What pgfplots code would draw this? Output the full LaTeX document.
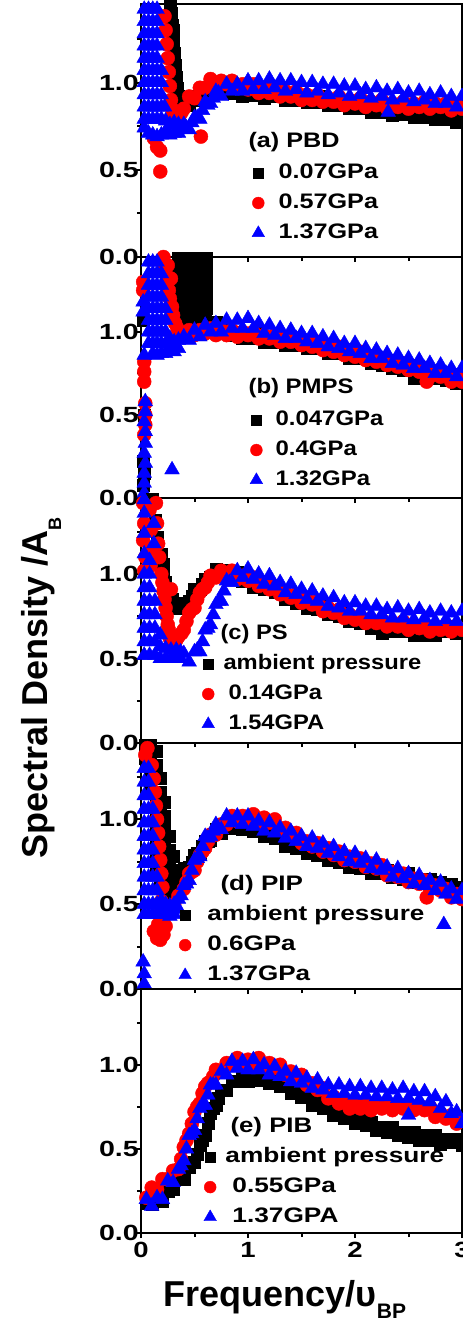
\documentclass[border=0pt]{standalone}
\usepackage{fontspec}
\setmainfont{Liberation Sans}
\usepackage{graphicx}
\usepackage{pgfplots}
\usepackage{pgfplotstable}
\pgfplotsset{compat=1.18}

\newcommand\tickfont{\bfseries\fontsize{22}{24}\selectfont}
\newcommand\legfont{\bfseries\fontsize{21}{24}\selectfont}
\newcommand\labfont{\bfseries\fontsize{36}{40}\selectfont}
\newcommand\hs[2]{\scalebox{#1}[1]{#2}}

% columns: x, k = black squares, r = red circles, b = blue triangles
\pgfplotstableread{
x k r b
0.40 0.87 0.85 0.76
0.45 0.87 0.92 0.73
0.50 0.92 0.91 0.80
0.55 0.90 0.97 0.79
0.60 0.95 0.97 0.89
0.65 0.94 1.02 0.88
0.70 0.98 0.98 0.95
0.75 0.94 1.01 0.92
0.80 0.97 0.99 0.99
0.85 0.94 1.01 0.95
0.90 0.97 0.97 0.99
0.95 0.92 0.99 0.95
1.00 0.95 0.96 1.01
1.05 0.93 0.99 0.96
1.10 0.95 0.94 1.01
1.15 0.91 0.97 0.96
1.20 0.94 0.94 1.02
1.25 0.92 0.97 0.97
1.30 0.94 0.92 1.01
1.35 0.90 0.95 0.95
1.40 0.93 0.92 1.01
1.45 0.90 0.95 0.96
1.50 0.93 0.90 1.00
1.55 0.89 0.93 0.94
1.60 0.92 0.90 1.00
1.65 0.89 0.93 0.95
1.70 0.92 0.89 0.99
1.75 0.87 0.91 0.93
1.80 0.90 0.89 0.99
1.85 0.87 0.92 0.94
1.90 0.90 0.87 0.98
1.95 0.85 0.90 0.92
2.00 0.88 0.88 0.98
2.05 0.85 0.91 0.93
2.10 0.88 0.86 0.96
2.15 0.83 0.89 0.91
2.20 0.86 0.87 0.97
2.25 0.83 0.90 0.92
2.30 0.86 0.85 0.95
2.35 0.81 0.88 0.90
2.40 0.84 0.86 0.96
2.45 0.82 0.89 0.91
2.50 0.84 0.85 0.94
2.55 0.80 0.88 0.89
2.60 0.83 0.86 0.95
2.65 0.80 0.89 0.90
2.70 0.83 0.85 0.93
2.75 0.79 0.88 0.88
2.80 0.81 0.86 0.94
2.85 0.79 0.88 0.88
2.90 0.82 0.84 0.92
2.95 0.77 0.87 0.86
3.00 0.80 0.85 0.92
}\tA

\pgfplotstableread{
x k r b
0.40 1.09 0.97 0.97
0.45 1.07 1.01 0.95
0.50 1.10 0.98 1.01
0.55 1.06 1.01 0.97
0.60 1.09 0.99 1.04
0.65 1.06 1.02 1.00
0.70 1.06 0.98 1.05
0.75 1.00 1.01 1.00
0.80 1.01 0.98 1.07
0.85 0.98 1.01 1.02
0.90 1.00 0.97 1.07
0.95 0.96 1.00 1.02
1.00 0.99 0.98 1.08
1.05 0.96 1.00 1.02
1.10 0.99 0.96 1.05
1.15 0.94 0.98 0.99
1.20 0.97 0.96 1.04
1.25 0.94 0.98 0.98
1.30 0.97 0.94 1.02
1.35 0.92 0.96 0.96
1.40 0.95 0.94 1.01
1.45 0.92 0.96 0.96
1.50 0.95 0.92 0.99
1.55 0.90 0.94 0.94
1.60 0.92 0.91 0.99
1.65 0.90 0.94 0.93
1.70 0.92 0.89 0.97
1.75 0.87 0.91 0.91
1.80 0.89 0.88 0.96
1.85 0.87 0.91 0.90
1.90 0.89 0.86 0.93
1.95 0.84 0.88 0.88
2.00 0.86 0.85 0.93
2.05 0.84 0.88 0.87
2.10 0.86 0.83 0.90
2.15 0.81 0.85 0.84
2.20 0.83 0.82 0.89
2.25 0.80 0.84 0.84
2.30 0.83 0.80 0.87
2.35 0.78 0.82 0.81
2.40 0.80 0.79 0.86
2.45 0.77 0.81 0.80
2.50 0.80 0.77 0.84
2.55 0.75 0.79 0.78
2.60 0.77 0.76 0.83
2.65 0.74 0.78 0.78
2.70 0.76 0.73 0.81
2.75 0.72 0.76 0.75
2.80 0.74 0.73 0.80
2.85 0.71 0.75 0.75
2.90 0.73 0.70 0.78
2.95 0.69 0.73 0.73
3.00 0.71 0.70 0.78
}\tB

\pgfplotstableread{
x k r b
0.40 0.82 0.67 0.53
0.45 0.84 0.77 0.48
0.50 0.91 0.80 0.54
0.55 0.91 0.89 0.54
0.60 0.97 0.92 0.67
0.65 0.98 0.99 0.70
0.70 1.03 0.98 0.82
0.75 1.00 1.02 0.84
0.80 1.02 1.00 0.96
0.85 0.99 1.02 0.95
0.90 1.01 0.97 1.02
0.95 0.96 0.99 0.98
1.00 0.97 0.96 1.03
1.05 0.92 0.98 0.97
1.10 0.96 0.93 1.00
1.15 0.91 0.95 0.94
1.20 0.92 0.91 0.99
1.25 0.89 0.93 0.93
1.30 0.90 0.88 0.95
1.35 0.85 0.89 0.89
1.40 0.87 0.86 0.94
1.45 0.83 0.88 0.88
1.50 0.85 0.83 0.91
1.55 0.80 0.85 0.85
1.60 0.82 0.82 0.90
1.65 0.79 0.84 0.84
1.70 0.81 0.78 0.87
1.75 0.76 0.80 0.81
1.80 0.78 0.77 0.86
1.85 0.75 0.79 0.80
1.90 0.77 0.74 0.83
1.95 0.72 0.76 0.78
2.00 0.74 0.73 0.83
2.05 0.71 0.75 0.78
2.10 0.73 0.71 0.81
2.15 0.68 0.73 0.76
2.20 0.70 0.71 0.81
2.25 0.65 0.73 0.76
2.30 0.70 0.69 0.79
2.35 0.66 0.71 0.74
2.40 0.68 0.69 0.80
2.45 0.66 0.72 0.74
2.50 0.69 0.67 0.78
2.55 0.64 0.70 0.73
2.60 0.67 0.68 0.79
2.65 0.64 0.70 0.74
2.70 0.64 0.66 0.77
2.75 0.64 0.69 0.72
2.80 0.67 0.67 0.78
2.85 0.66 0.70 0.73
2.90 0.69 0.66 0.77
2.95 0.65 0.69 0.72
3.00 0.68 0.67 0.78
}\tC

\pgfplotstableread{
x k r b
0.40 0.71 0.59 0.61
0.45 0.72 0.68 0.64
0.50 0.79 0.70 0.76
0.55 0.80 0.79 0.78
0.60 0.87 0.83 0.90
0.65 0.88 0.91 0.90
0.70 0.94 0.91 0.97
0.75 0.92 0.97 0.94
0.80 0.96 0.97 1.02
0.85 0.95 1.02 0.98
0.90 0.98 0.99 1.02
0.95 0.94 1.02 0.97
1.00 0.96 1.00 1.02
1.05 0.93 1.03 0.96
1.10 0.95 0.98 0.99
1.15 0.90 1.01 0.93
1.20 0.92 0.98 0.98
1.25 0.89 1.00 0.92
1.30 0.90 0.94 0.95
1.35 0.84 0.95 0.89
1.40 0.86 0.91 0.93
1.45 0.83 0.92 0.87
1.50 0.85 0.86 0.90
1.55 0.80 0.87 0.84
1.60 0.82 0.84 0.89
1.65 0.79 0.86 0.83
1.70 0.81 0.81 0.86
1.75 0.76 0.83 0.80
1.80 0.78 0.79 0.84
1.85 0.75 0.81 0.78
1.90 0.77 0.76 0.81
1.95 0.72 0.78 0.75
2.00 0.74 0.75 0.80
2.05 0.71 0.77 0.74
2.10 0.73 0.72 0.77
2.15 0.68 0.74 0.71
2.20 0.71 0.71 0.76
2.25 0.68 0.73 0.70
2.30 0.70 0.67 0.72
2.35 0.66 0.69 0.66
2.40 0.68 0.66 0.71
2.45 0.65 0.68 0.65
2.50 0.68 0.63 0.68
2.55 0.63 0.65 0.62
2.60 0.65 0.62 0.67
2.65 0.63 0.64 0.61
2.70 0.65 0.59 0.64
2.75 0.60 0.61 0.58
2.80 0.63 0.58 0.63
2.85 0.60 0.59 0.56
2.90 0.62 0.54 0.59
2.95 0.58 0.56 0.53
3.00 0.60 0.53 0.58
}\tD

\pgfplotstableread{
x k r b
0.05 0.18 0.21 0.20
0.10 0.17 0.27 0.16
0.15 0.21 0.26 0.21
0.20 0.19 0.32 0.20
0.25 0.25 0.32 0.31
0.30 0.26 0.37 0.30
0.35 0.32 0.38 0.38
0.40 0.32 0.51 0.43
0.45 0.39 0.59 0.58
0.50 0.42 0.72 0.61
0.55 0.52 0.77 0.74
0.60 0.58 0.87 0.76
0.65 0.71 0.90 0.88
0.70 0.76 0.97 0.88
0.75 0.85 0.96 0.96
0.80 0.85 1.01 0.94
0.85 0.90 1.00 1.02
0.90 0.90 1.04 0.98
0.95 0.94 1.00 1.02
1.00 0.90 1.03 0.97
1.05 0.93 1.01 1.03
1.10 0.91 1.04 0.97
1.15 0.94 0.99 1.00
1.20 0.89 1.01 0.94
1.25 0.91 0.98 0.99
1.30 0.87 1.00 0.93
1.35 0.89 0.94 0.96
1.40 0.83 0.96 0.90
1.45 0.85 0.92 0.95
1.50 0.81 0.94 0.89
1.55 0.82 0.88 0.92
1.60 0.76 0.89 0.86
1.65 0.78 0.85 0.91
1.70 0.74 0.86 0.85
1.75 0.76 0.80 0.88
1.80 0.70 0.81 0.83
1.85 0.72 0.77 0.88
1.90 0.68 0.79 0.83
1.95 0.70 0.74 0.87
2.00 0.65 0.77 0.82
2.05 0.67 0.74 0.87
2.10 0.64 0.77 0.82
2.15 0.66 0.73 0.86
2.20 0.61 0.76 0.81
2.25 0.63 0.74 0.86
2.30 0.60 0.77 0.81
2.35 0.63 0.73 0.85
2.40 0.58 0.76 0.80
2.45 0.60 0.74 0.86
2.50 0.57 0.77 0.80
2.55 0.60 0.73 0.84
2.60 0.55 0.76 0.79
2.65 0.58 0.73 0.84
2.70 0.55 0.75 0.78
2.75 0.58 0.69 0.81
2.80 0.53 0.71 0.74
2.85 0.56 0.68 0.78
2.90 0.54 0.70 0.71
2.95 0.56 0.65 0.72
3.00 0.52 0.67 0.65
}\tE

\pgfplotsset{
  /pgf/number format/assume math mode=true,
  panel/.style={
    scale only axis, width=321pt, anchor=south west,
    xmin=0, xmax=3, ymin=0, ymax=1.45,
    axis on top,
    axis line style={line width=2.2pt},
    xtick={0,1,2,3}, minor xtick={0.5,1.5,2.5},
    ytick={0,0.5,1}, minor ytick={0.25,0.75,1.25},
    tick align=outside, xtick pos=bottom, ytick pos=left,
    major tick length=5pt, minor tick length=4pt,
    every tick/.style={line width=2pt, black},
    tick label style={font=\tickfont},
    yticklabel={\hs{1.3}{\pgfmathprintnumber[fixed,fixed zerofill,precision=1]{\tick}}},
    yticklabel style={anchor=east, inner sep=0pt, xshift=3pt},
    xticklabel={\hs{1.25}{\pgfmathprintnumber{\tick}}},
    xticklabel style={inner sep=2pt, yshift=-2pt},
    legend cell align=left,
    legend image code/.code={\path[draw=none,fill=none] (-6pt,-10pt) rectangle (6pt,10pt);
      \draw[##1, mark size=0.85*\pgfplotmarksize] plot coordinates {(0pt,0pt)};},
    legend style={anchor=north west, draw=none, fill=none, inner sep=0pt, outer sep=0pt,
      row sep=10pt, column sep=14pt, font=\legfont,
      nodes={inner sep=0pt, text height=15pt, text depth=5pt}},
  },
  ks/.style={only marks, mark=square*, mark size=6pt, black},
  rc/.style={only marks, mark=*, mark size=7pt, red},
  bt/.style={only marks, mark=triangle*, mark size=8.5pt, blue},
}

\begin{document}
\begin{tikzpicture}
\useasboundingbox (0pt,0pt) rectangle (463pt,-1323pt);

% ---------------- (a) PBD
\begin{axis}[panel, at={(141pt,-257pt)}, height=253pt, xticklabels={,,,},
  legend style={at={(0.346,0.3715)}}]
\addplot[ks] table[x=x,y=k]{\tA};
\addlegendentry{\hs{1.2}{0.07GPa}}
\addplot[ks, forget plot] coordinates {(0.24,1.46) (0.26,1.46) (0.27,1.44) (0.28,1.40) (0.29,1.33)
  (0.30,1.30) (0.30,1.24) (0.31,1.17) (0.32,1.10) (0.33,1.03) (0.34,0.97) (0.35,0.92) (0.36,0.88) (0.38,0.86)};
\addplot[rc] table[x=x,y=r]{\tA};
\addlegendentry{\hs{1.2}{0.57GPa}}
\addplot[rc, forget plot] coordinates {(0.21,1.46) (0.22,1.38) (0.23,1.30) (0.24,1.22) (0.25,1.14) (0.26,1.06)
  (0.27,0.98) (0.28,0.90) (0.29,0.85) (0.30,0.82) (0.32,0.80) (0.34,0.80) (0.36,0.81) (0.38,0.83)
  (0.12,0.68) (0.15,0.63) (0.18,0.61) (0.18,0.49) (0.56,0.69)};
\addplot[bt] table[x=x,y=b]{\tA};
\addlegendentry{\hs{1.2}{1.37GPa}}
\addplot[bt, forget plot] coordinates {
  (0.03,1.42) (0.03,1.35) (0.03,1.28) (0.03,1.21) (0.03,1.14) (0.03,1.07) (0.03,1.00) (0.03,0.93) (0.03,0.86) (0.03,0.79)
  (0.07,1.42) (0.07,1.35) (0.07,1.28) (0.07,1.21) (0.07,1.14) (0.07,1.07) (0.07,1.00) (0.07,0.93) (0.07,0.86) (0.07,0.79)
  (0.11,1.42) (0.11,1.35) (0.11,1.28) (0.11,1.21) (0.11,1.14) (0.11,1.07) (0.11,1.00) (0.11,0.93) (0.11,0.86) (0.11,0.79)
  (0.15,1.42) (0.15,1.35) (0.15,1.28) (0.15,1.21) (0.15,1.14) (0.15,1.07) (0.15,1.00) (0.15,0.93) (0.15,0.86) (0.15,0.79)
  (0.19,1.07) (0.19,1.00) (0.19,0.93) (0.19,0.86) (0.19,0.79) (0.22,0.86)
  (0.03,0.74) (0.07,0.71) (0.11,0.70) (0.15,0.69) (0.19,0.70) (0.23,0.72) (0.23,0.78)
  (0.27,0.70) (0.27,0.76) (0.31,0.71) (0.31,0.77) (0.35,0.71) (0.35,0.76)
  (0.425,0.74) (0.475,0.77) (0.525,0.80) (0.575,0.84) (0.625,0.87) (0.675,0.91) (0.725,0.94) (2.31,0.83)};
\end{axis}
\node[anchor=base west, font=\legfont] at (245pt,-147pt) {\hs{1.2}{(a) PBD}};

% ---------------- (b) PMPS
\begin{axis}[panel, at={(141pt,-498pt)}, height=241pt, xticklabels={,,,},
  legend style={at={(0.340,0.365)}, column sep=13pt}]
\addplot[ks] table[x=x,y=k]{\tB};
\addlegendentry{\hs{1.14}{0.047GPa}}
\addplot[ks, forget plot] coordinates {
  (0.35,1.44) (0.35,1.38) (0.35,1.32) (0.35,1.26) (0.35,1.20) (0.35,1.14)
  (0.40,1.44) (0.40,1.38) (0.40,1.32) (0.40,1.26) (0.40,1.20) (0.40,1.14)
  (0.45,1.44) (0.45,1.38) (0.45,1.32) (0.45,1.26) (0.45,1.20) (0.45,1.14)
  (0.50,1.44) (0.50,1.38) (0.50,1.32) (0.50,1.26) (0.50,1.20) (0.50,1.14)
  (0.55,1.44) (0.55,1.38) (0.55,1.32) (0.55,1.26) (0.55,1.20) (0.55,1.14)
  (0.61,1.44) (0.61,1.38) (0.61,1.32) (0.61,1.26) (0.61,1.20) (0.61,1.14)
  (0.02,1.07) (0.03,0.50) (0.02,0.22) (0.03,0.15) (0.02,0.08) (2.55,0.72)};
\addplot[rc] table[x=x,y=r]{\tB};
\addlegendentry{\hs{1.14}{0.4GPa}}
\addplot[rc, forget plot] coordinates {(0.21,1.45) (0.22,1.40) (0.23,1.35) (0.25,1.30) (0.26,1.25) (0.27,1.20)
  (0.29,1.15) (0.30,1.10) (0.32,1.05) (0.34,1.02) (0.36,1.00) (0.38,0.98) (0.25,1.40) (0.28,1.32)
  (0.02,1.30) (0.02,1.25) (0.03,0.82) (0.03,0.76) (0.03,0.70) (0.04,0.57) (0.04,0.50) (0.04,0.44) (0.03,0.38)
  (2.67,0.70)};
\addplot[bt] table[x=x,y=b]{\tB};
\addlegendentry{\hs{1.14}{1.32GPa}}
\addplot[bt, forget plot] coordinates {
  (0.07,1.42) (0.07,1.35) (0.07,1.28) (0.07,1.21) (0.07,1.14) (0.07,1.07) (0.07,1.00) (0.07,0.93)
  (0.11,1.42) (0.11,1.35) (0.11,1.28) (0.11,1.21) (0.11,1.14) (0.11,1.07) (0.11,1.00) (0.11,0.93)
  (0.15,1.42) (0.15,1.35) (0.15,1.28) (0.15,1.21) (0.15,1.14) (0.15,1.07) (0.15,1.00) (0.15,0.93)
  (0.19,1.35) (0.19,1.28) (0.19,1.21) (0.19,1.14) (0.19,1.07) (0.19,1.00) (0.19,0.93)
  (0.23,1.14) (0.23,1.07) (0.23,1.00) (0.23,0.93)
  (0.11,0.87) (0.15,0.86) (0.19,0.87) (0.23,0.87) (0.27,0.90) (0.27,0.96) (0.31,0.88) (0.31,0.94) (0.35,0.90) (0.35,0.95)
  (0.03,0.03) (0.03,0.09) (0.03,0.15) (0.04,0.21) (0.03,0.27) (0.04,0.33) (0.04,0.40) (0.03,0.46) (0.04,0.52) (0.04,0.58)
  (0.03,0.86) (0.02,1.12) (0.02,1.18) (0.29,0.17)};
\end{axis}
\node[anchor=base west, font=\legfont] at (245pt,-393pt) {\hs{1.14}{(b) PMPS}};

% ---------------- (c) PS
\begin{axis}[panel, at={(141pt,-743pt)}, height=245pt, xticklabels={,,,},
  legend style={at={(0.190,0.363)}, column sep=9pt}]
\addplot[ks] table[x=x,y=k]{\tC};
\addlegendentry{\hs{1.13}{ambient pressure}}
\addplot[ks, forget plot] coordinates {(0.10,1.44) (0.13,1.32) (0.15,1.22) (0.17,1.12) (0.19,1.06) (0.21,1.00)
  (0.23,0.95) (0.25,0.91) (0.27,0.88) (0.29,0.85) (0.31,0.83) (0.33,0.81) (0.35,0.80) (0.37,0.80) (0.19,1.12) (0.21,1.06)
  (0.425,0.83) (0.475,0.87) (0.525,0.91) (0.575,0.94)};
\addplot[rc] table[x=x,y=r]{\tC};
\addlegendentry{\hspace*{5pt}\hs{1.13}{0.14GPa}}
\addplot[rc, forget plot] coordinates {(0.02,1.42) (0.03,1.30) (0.02,1.20) (0.04,1.10) (0.03,1.02)
  (0.08,1.38) (0.09,1.26) (0.10,1.15) (0.09,1.05) (0.14,1.42) (0.15,1.30) (0.16,1.18)
  (0.17,1.10) (0.19,1.00) (0.21,0.90) (0.23,0.80) (0.25,0.70) (0.27,0.62) (0.29,0.58) (0.31,0.59)
  (0.33,0.61) (0.35,0.63) (0.38,0.65) (0.28,0.91) (0.20,0.95) (0.22,0.85) (0.24,0.75) (0.26,0.67)
  (0.425,0.72) (0.475,0.79) (0.525,0.85) (0.575,0.91) (0.625,0.95)};
\addplot[bt] table[x=x,y=b]{\tC};
\addlegendentry{\hspace*{5pt}\hs{1.13}{1.54GPA}}
\addplot[bt, forget plot] coordinates {
  (0.03,0.52) (0.03,0.60) (0.03,0.68) (0.03,0.76) (0.03,0.84) (0.03,0.92) (0.03,1.00) (0.03,1.12) (0.03,1.24) (0.03,1.36) (0.03,1.44)
  (0.08,0.52) (0.08,0.60) (0.08,0.68) (0.08,0.76) (0.08,0.84) (0.08,0.92) (0.08,1.00) (0.08,1.08)
  (0.12,1.30) (0.12,1.18) (0.13,0.52) (0.13,0.60) (0.13,0.68) (0.13,0.76) (0.13,0.84)
  (0.18,0.50) (0.18,0.57) (0.18,0.64) (0.23,0.50) (0.23,0.56) (0.28,0.50) (0.28,0.55)
  (0.33,0.50) (0.33,0.55) (0.37,0.50) (0.37,0.54)
  (0.525,0.55) (0.575,0.60) (0.625,0.68) (0.675,0.76) (0.725,0.84) (0.775,0.90) (0.825,0.95)};
\end{axis}
\node[anchor=base west, font=\legfont] at (217pt,-639pt) {\hs{1.13}{(c) PS}};

% ---------------- (d) PIP
\begin{axis}[panel, at={(141pt,-989pt)}, height=246pt, xticklabels={,,,},
  legend style={at={(0.118,0.341)}, column sep=16pt}]
\addplot[ks] table[x=x,y=k]{\tD};
\addlegendentry{\hs{1.24}{ambient pressure}}
\addplot[ks, forget plot] coordinates {
  (0.04,1.44) (0.04,1.36) (0.09,1.44) (0.09,1.36) (0.09,1.28) (0.09,1.20)
  (0.14,1.40) (0.14,1.32) (0.14,1.24) (0.14,1.16) (0.14,1.08) (0.14,1.00) (0.14,0.92) (0.14,0.84) (0.14,0.76) (0.14,0.68)
  (0.18,1.24) (0.18,1.16) (0.18,1.08) (0.18,1.00) (0.18,0.92) (0.18,0.84) (0.18,0.76) (0.18,0.68) (0.18,0.60)
  (0.22,1.10) (0.22,1.02) (0.22,0.94) (0.22,0.86) (0.22,0.78) (0.22,0.70) (0.22,0.62)
  (0.26,0.90) (0.26,0.82) (0.26,0.74) (0.26,0.66) (0.26,0.58)
  (0.30,0.78) (0.30,0.70) (0.30,0.62) (0.30,0.56) (0.34,0.70) (0.34,0.63) (0.34,0.56) (0.38,0.68) (0.38,0.62)
  (0.425,0.71) (0.475,0.75) (0.525,0.80) (0.575,0.84) (0.625,0.87)};
\addplot[rc] table[x=x,y=r]{\tD};
\addlegendentry{\hs{1.24}{0.6GPa}}
\addplot[rc, forget plot] coordinates {(0.06,1.42) (0.04,1.38) (0.10,1.32) (0.12,1.24) (0.13,1.16) (0.14,1.08)
  (0.15,1.00) (0.16,0.92) (0.17,0.84) (0.18,0.76) (0.19,0.68) (0.20,0.60) (0.19,0.52) (0.18,0.45) (0.16,0.38)
  (0.12,0.34) (0.15,0.30) (0.18,0.29) (0.21,0.32) (0.23,0.37) (0.24,0.44) (0.27,0.48) (0.31,0.50) (0.35,0.55)
  (0.425,0.63) (0.475,0.69) (0.525,0.75) (0.575,0.81) (0.625,0.87) (0.675,0.91) (2.67,0.54)};
\addplot[bt] table[x=x,y=b]{\tD};
\addlegendentry{\hs{1.24}{1.37GPa}}
\addplot[bt, forget plot] coordinates {
  (0.03,1.30) (0.03,1.22) (0.03,1.14) (0.03,1.06) (0.03,0.98) (0.03,0.90) (0.03,0.82) (0.03,0.74) (0.03,0.66) (0.03,0.58) (0.03,0.50) (0.03,0.44)
  (0.07,1.30) (0.07,1.22) (0.07,1.14) (0.07,1.06) (0.07,0.98) (0.07,0.90) (0.07,0.82) (0.07,0.74) (0.07,0.66) (0.07,0.58) (0.07,0.50) (0.07,0.44)
  (0.11,1.06) (0.11,0.98) (0.11,0.90) (0.11,0.82) (0.11,0.74) (0.11,0.66) (0.11,0.58) (0.11,0.50) (0.11,0.44)
  (0.15,0.66) (0.15,0.58) (0.15,0.50) (0.15,0.44) (0.19,0.52) (0.19,0.45)
  (0.23,0.50) (0.23,0.44) (0.27,0.49) (0.27,0.43) (0.31,0.50) (0.31,0.44) (0.35,0.53) (0.35,0.47)
  (0.375,0.55) (0.425,0.62) (0.475,0.70) (0.525,0.77) (0.575,0.84) (0.625,0.89) (0.675,0.93)
  (0.02,0.16) (0.03,0.09) (0.03,0.03) (2.83,0.38)};
\end{axis}
\node[anchor=base west, font=\legfont] at (217pt,-890pt) {\hs{1.24}{(d) PIP}};

% ---------------- (e) PIB
\begin{axis}[panel, at={(141pt,-1233pt)}, height=244pt,
  legend style={at={(0.196,0.352)}, column sep=9pt}]
\addplot[ks] table[x=x,y=k]{\tE};
\addlegendentry{\hs{1.25}{ambient pressure}}
\addplot[ks, forget plot] coordinates {(0.525,0.47) (0.575,0.55) (0.625,0.65) (0.675,0.74) (0.725,0.80) (0.775,0.85)};
\addplot[rc] table[x=x,y=r]{\tE};
\addlegendentry{\hspace*{7pt}\hs{1.25}{0.55GPa}}
\addplot[rc, forget plot] coordinates {(0.375,0.44) (0.425,0.55) (0.475,0.65) (0.525,0.75) (0.575,0.83) (0.625,0.89) (0.675,0.93)};
\addplot[bt] table[x=x,y=b]{\tE};
\addlegendentry{\hspace*{7pt}\hs{1.25}{1.37GPA}}
\addplot[bt, forget plot] coordinates {(0.375,0.40) (0.425,0.50) (0.475,0.59) (0.525,0.68) (0.575,0.76) (0.625,0.82) (0.675,0.88) (2.50,0.70)};
\end{axis}
\node[anchor=base west, font=\legfont] at (227pt,-1132pt) {\hs{1.23}{(e) PIB}};

% axis titles
\node[rotate=90, anchor=base, font=\labfont] at (47pt,-688pt)
  {Spectral Density /A\raisebox{-14pt}{\fontsize{18}{18}\selectfont B}};
\node[anchor=base, font=\labfont] at (285pt,-1306pt)
  {Frequency/υ\raisebox{-12pt}{\fontsize{21}{21}\selectfont BP}};
\end{tikzpicture}
\end{document}
